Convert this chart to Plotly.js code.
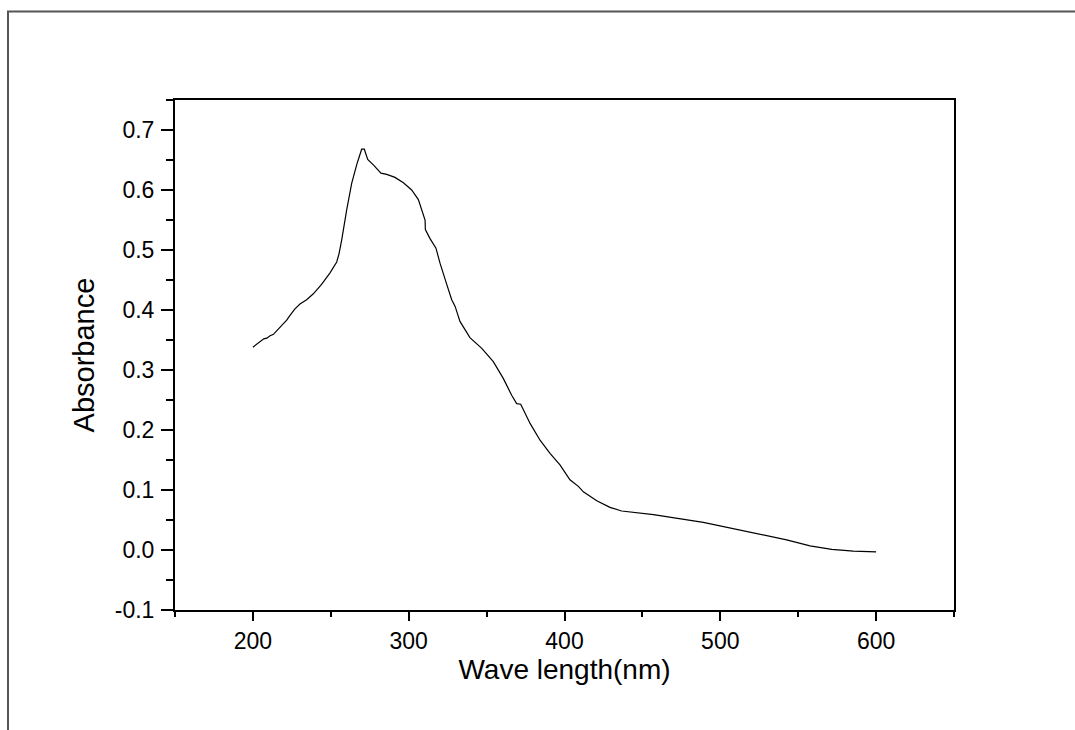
<!DOCTYPE html>
<html>
<head>
<meta charset="utf-8">
<script src="https://cdn.plot.ly/plotly-3.0.1.min.js"></script>
<style>html,body{margin:0;padding:0;background:#fff;}#chart{width:1075px;height:730px;}</style>
</head>
<body>
<div id="chart"></div>
<script>
// Wavelength (nm)
const wavelength = [200,203,205,207,209,211,213,216,219,221.7,223.8,227,230.2,234.5,238.8,244.2,249.5,253.8,255.3,257,260.2,263.4,266.6,269.8,271.5,273.7,277.3,282.2,285.9,291.2,296.6,301.9,306.2,309,310.5,310.7,313.7,317.5,320.1,324,327.6,329.8,332.9,339.3,346.9,354.3,360.7,366.1,369.3,371.9,377.9,384.3,390.7,397.1,403.5,408.9,412.1,420.7,429.2,436.7,457.1,489.1,521.2,542.6,557.6,571.5,585.4,600];
// Absorbance
const absorbance = [0.338,0.344,0.348,0.352,0.353,0.357,0.359,0.367,0.375,0.383,0.391,0.402,0.410,0.417,0.427,0.443,0.462,0.480,0.494,0.517,0.567,0.611,0.642,0.668,0.668,0.651,0.642,0.628,0.626,0.621,0.612,0.600,0.584,0.564,0.550,0.534,0.519,0.503,0.478,0.446,0.417,0.406,0.381,0.354,0.336,0.314,0.286,0.258,0.244,0.243,0.211,0.183,0.161,0.142,0.117,0.106,0.097,0.082,0.071,0.065,0.059,0.046,0.029,0.017,0.007,0.001,-0.002,-0.003];

const xTickVals = [200,300,400,500,600];
const xTickText = ["200","300","400","500","600"];
const yTickVals = [-0.1,0.0,0.1,0.2,0.3,0.4,0.5,0.6,0.7];
const yTickText = ["-0.1","0.0","0.1","0.2","0.3","0.4","0.5","0.6","0.7"];

const FONT = "Liberation Sans, Arial, sans-serif";

const trace = {
  x: wavelength, y: absorbance, type: "scatter", mode: "lines",
  line: {color: "#000", width: 1.2}, hoverinfo: "skip", showlegend: false
};

const PL = 175, PR = 121, PT = 100, PB = 120, W = 1075, H = 730;
const pw = W - PL - PR, ph = H - PT - PB;

const layout = {
  width: W, height: H,
  margin: {l: PL, r: PR, t: PT, b: PB, pad: 0, autoexpand: false},
  paper_bgcolor: "#fff", plot_bgcolor: "#fff",
  font: {family: FONT, color: "#000", size: 23},
  showlegend: false,
  xaxis: {
    range: [150, 650], tickmode: "array", tickvals: xTickVals, ticktext: xTickText,
    ticks: "outside", ticklen: 9, tickwidth: 2, tickcolor: "#000",
    minor: {tickmode: "linear", tick0: 150, dtick: 50, ticks: "outside", ticklen: 5, tickwidth: 2, tickcolor: "#000", showgrid: false},
    showline: true, linecolor: "#000", linewidth: 2, mirror: true,
    showgrid: false, zeroline: false,
    tickfont: {family: FONT, size: 23, color: "#000"},
    title: {text: "Wave length(nm)", font: {family: FONT, size: 28, color: "#000"}, standoff: 6}
  },
  yaxis: {
    range: [-0.1, 0.75], tickmode: "array", tickvals: yTickVals, ticktext: yTickText,
    ticks: "outside", ticklen: 12, tickwidth: 2, tickcolor: "#000",
    ticklabelstandoff: 2,
    minor: {tickmode: "linear", tick0: 0, dtick: 0.05, ticks: "outside", ticklen: 7, tickwidth: 2, tickcolor: "#000", showgrid: false},
    showline: true, linecolor: "#000", linewidth: 2, mirror: true,
    showgrid: false, zeroline: false,
    tickfont: {family: FONT, size: 23, color: "#000"},
    title: {text: "Absorbance", font: {family: FONT, size: 29, color: "#000"}, standoff: 12}
  },
  shapes: [{
    type: "rect", xref: "paper", yref: "paper", layer: "below",
    x0: (8 - PL) / pw, x1: (W + 20 - PL) / pw,
    y0: -(H + 20 - PT - ph) / ph, y1: 1 + (PT - 11.5) / ph,
    line: {color: "#555", width: 2}, fillcolor: "rgba(0,0,0,0)"
  }]
};

Plotly.newPlot("chart", [trace], layout, {displayModeBar: false, staticPlot: true});
</script>
</body>
</html>
